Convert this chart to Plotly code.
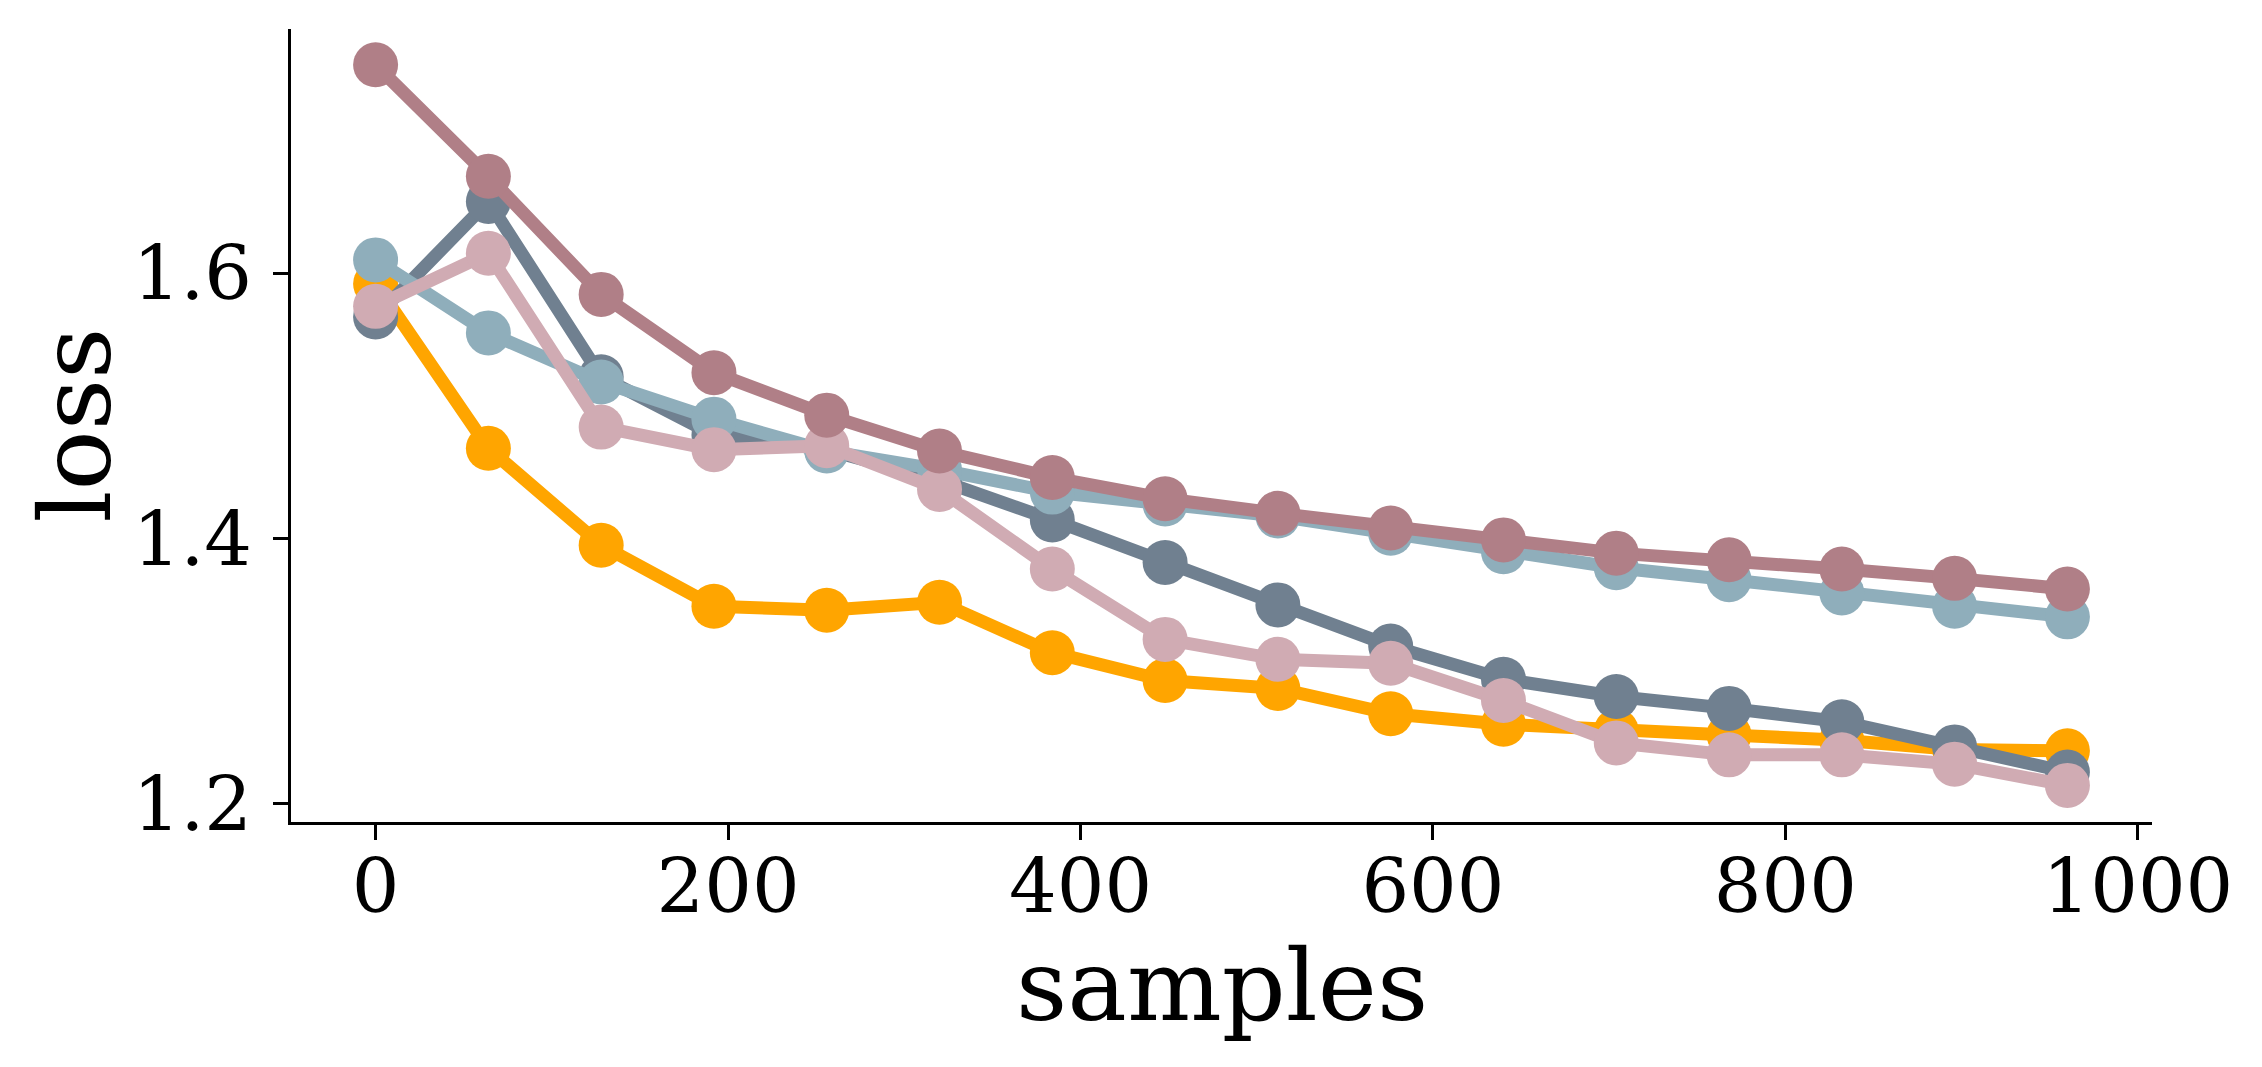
import plotly.graph_objects as go

samples = [0, 64, 128, 192, 256, 320, 384, 448, 512, 576, 640, 704, 768, 832, 896, 960]

loss_orange = [1.592, 1.468, 1.395, 1.349, 1.346, 1.352, 1.314, 1.293, 1.287, 1.268, 1.260, 1.255, 1.252, 1.248, 1.241, 1.240]
loss_slate = [1.567, 1.654, 1.522, 1.478, 1.467, 1.444, 1.414, 1.382, 1.350, 1.319, 1.294, 1.281, 1.272, 1.262, 1.243, 1.224]
loss_blue = [1.610, 1.555, 1.518, 1.490, 1.466, 1.452, 1.435, 1.426, 1.417, 1.404, 1.390, 1.378, 1.369, 1.359, 1.349, 1.341]
loss_pink = [1.575, 1.615, 1.484, 1.467, 1.470, 1.437, 1.377, 1.324, 1.309, 1.306, 1.278, 1.246, 1.237, 1.237, 1.230, 1.214]
loss_mauve = [1.757, 1.673, 1.584, 1.525, 1.493, 1.466, 1.446, 1.430, 1.419, 1.408, 1.399, 1.389, 1.384, 1.377, 1.370, 1.362]

series = [
    (loss_orange, "#FFA500"),
    (loss_slate, "#708090"),
    (loss_blue, "#8FAEBB"),
    (loss_pink, "#D0ABB3"),
    (loss_mauve, "#B07F87"),
]

FONT = "DejaVu Serif"

fig = go.Figure()
for ys, col in series:
    fig.add_trace(go.Scatter(
        x=samples, y=ys, mode="lines+markers",
        line=dict(color=col, width=13),
        marker=dict(color=col, size=45),
        showlegend=False,
    ))

axis_common = dict(
    showgrid=False, zeroline=False, showline=True, linecolor="black", linewidth=3,
    ticks="outside", ticklen=15, tickwidth=3, tickcolor="black",
    tickfont=dict(family=FONT, size=75, color="black"), mirror=False,
)

fig.update_xaxes(range=[-48, 1008], tickvals=[0, 200, 400, 600, 800, 1000],
                 ticklabelstandoff=-18, **axis_common)
fig.update_yaxes(range=[1.1864, 1.784], tickvals=[1.2, 1.4, 1.6],
                 tickformat=".1f", ticklabelstandoff=6, **axis_common)

# page body adds ~8px offset, so margins are shifted accordingly
fig.update_layout(
    width=2262, height=1067,
    margin=dict(l=283, r=118, t=21, b=253),
    paper_bgcolor="white", plot_bgcolor="white",
    font=dict(family=FONT, color="black"),
    annotations=[
        dict(text="samples", xref="paper", yref="paper", x=0.5, y=0,
             xanchor="center", yanchor="middle", yshift=-163, showarrow=False,
             font=dict(family=FONT, size=100, color="black")),
        dict(text="loss", xref="paper", yref="paper", x=0, y=0.5,
             xanchor="center", yanchor="middle", xshift=-216, textangle=-90,
             showarrow=False, font=dict(family=FONT, size=100, color="black")),
    ],
)

fig.write_html("out.html")
